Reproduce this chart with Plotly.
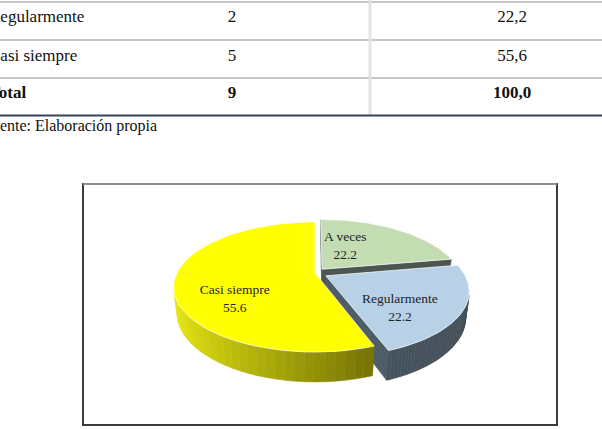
import numpy as np
import plotly.graph_objects as go

# ---------------- data ----------------
categories = ["A veces", "Regularmente", "Casi siempre"]
frecuencia = [2, 2, 5]
porcentaje = [22.2, 22.2, 55.6]

table_rows = ["Regularmente", "Casi siempre", "Total"]
table_freq = [2, 5, 9]
table_pct = ["22,2", "55,6", "100,0"]
fuente = "Fuente: Elaboración propia"

# ---------------- style ----------------
top_colors = ["#c4dcb2", "#b9d1e7", "#ffff00"]
wall_light = [(84, 96, 92), (80, 94, 106), (236, 236, 18)]
wall_dark = [(70, 80, 78), (66, 78, 88), (58, 56, 0)]
explode = [0.08, 0.09, 0.0]
label_pos = [(25, 0.45), (134.6, 0.66), (233.7, 0.66)]  # (angle deg, radius) of labels

W, H = 602, 429
SERIF = "Liberation Serif, Times New Roman, serif"

# perspective projection of a pie lying on a horizontal plane
phi = np.radians(26.7)
Dcam = 4.15
kf = 573.0
pcx, pcy = 315.0, 273.0
depth = 0.21
CAM = np.array([0.0, -Dcam * np.cos(phi), Dcam * np.sin(phi)])


def proj(x, y, z):
    d1 = y + Dcam * np.cos(phi)
    d2 = z - Dcam * np.sin(phi)
    yc = d1 * np.sin(phi) + d2 * np.cos(phi)
    zc = d1 * np.cos(phi) - d2 * np.sin(phi)
    return pcx + kf * x / zc, pcy - kf * yc / zc, zc


fig = go.Figure()

total = sum(frecuencia)
angles = np.cumsum([0] + [360.0 * f / total for f in frecuencia])

walls = []
tops = []
for i in range(len(categories)):
    a0, a1 = np.radians(angles[i]), np.radians(angles[i + 1])
    mid = (a0 + a1) / 2
    ox, oy = explode[i] * np.sin(mid), explode[i] * np.cos(mid)
    th = np.linspace(a0, a1, 61)
    rx, ry = ox + np.sin(th), oy + np.cos(th)

    # top face
    tx = np.concatenate([[ox], rx, [ox]])
    ty = np.concatenate([[oy], ry, [oy]])
    X, Y, Z = proj(tx, ty, np.zeros_like(tx))
    tops.append((Z.mean(), X, Y, top_colors[i]))

    def shade(nu, i=i):
        t = (1 - nu) / 2
        lo, hi = np.array(wall_dark[i]), np.array(wall_light[i])
        c = lo + (hi - lo) * t
        return "rgb(%d,%d,%d)" % tuple(c.astype(int))

    # outer wall strips
    for j in range(len(th) - 1):
        tm = (th[j] + th[j + 1]) / 2
        n = np.array([np.sin(tm), np.cos(tm), 0.0])
        P = np.array([ox + np.sin(tm), oy + np.cos(tm), -depth / 2])
        if np.dot(n, CAM - P) <= 0:
            continue
        qx = np.array([rx[j], rx[j + 1], rx[j + 1], rx[j], rx[j]])
        qy = np.array([ry[j], ry[j + 1], ry[j + 1], ry[j], ry[j]])
        qz = np.array([0, 0, -depth, -depth, 0])
        X, Y, Z = proj(qx, qy, qz)
        walls.append((Z.mean(), X, Y, shade(n[0])))

    # radial walls
    for a, n in ((a0, np.array([-np.cos(a0), np.sin(a0), 0.0])),
                 (a1, np.array([np.cos(a1), -np.sin(a1), 0.0]))):
        ex, ey = ox + np.sin(a), oy + np.cos(a)
        P = np.array([(ox + ex) / 2, (oy + ey) / 2, -depth / 2])
        if np.dot(n, CAM - P) <= 1e-3:
            continue
        qx = np.array([ox, ex, ex, ox, ox])
        qy = np.array([oy, ey, ey, oy, oy])
        qz = np.array([0, 0, -depth, -depth, 0])
        X, Y, Z = proj(qx, qy, qz)
        walls.append((Z.mean(), X, Y, shade(n[0])))

for _, X, Y, col in sorted(walls, key=lambda w: -w[0]):
    fig.add_trace(go.Scatter(x=X, y=Y, mode="lines", fill="toself", fillcolor=col,
                             line=dict(color=col, width=0.6), hoverinfo="skip",
                             showlegend=False))
for _, X, Y, col in sorted(tops, key=lambda w: -w[0]):
    fig.add_trace(go.Scatter(x=X, y=Y, mode="lines", fill="toself", fillcolor=col,
                             line=dict(color="rgba(255,255,255,0.7)", width=1),
                             hoverinfo="skip", showlegend=False))

# slice labels
lx, ly, lt = [], [], []
for i in range(len(categories)):
    a0, a1 = np.radians(angles[i]), np.radians(angles[i + 1])
    mid = (a0 + a1) / 2
    ox, oy = explode[i] * np.sin(mid), explode[i] * np.cos(mid)
    la, lr = label_pos[i]
    X, Y, _ = proj(ox + lr * np.sin(np.radians(la)), oy + lr * np.cos(np.radians(la)), 0.0)
    lx.append(X)
    ly.append(Y)
    lt.append("%s<br>%.1f" % (categories[i], porcentaje[i]))
fig.add_trace(go.Scatter(x=lx, y=ly, mode="text", text=lt, textposition="middle center",
                         textfont=dict(family=SERIF, size=13.5, color="#1e2228"),
                         hoverinfo="skip", showlegend=False))

# ---------------- table fragment ----------------
row_y = [18, 57, 94]
col_x = [-11, 232, 512]
for r, (name, f, p) in enumerate(zip(table_rows, table_freq, table_pct)):
    bold = name == "Total"
    wrap = (lambda s: "<b>%s</b>" % s) if bold else (lambda s: s)
    fig.add_trace(go.Scatter(x=[col_x[0]], y=[row_y[r]], mode="text", text=[wrap(name)],
                             textposition="middle right", cliponaxis=True,
                             textfont=dict(family=SERIF, size=17, color="#111"),
                             hoverinfo="skip", showlegend=False))
    fig.add_trace(go.Scatter(x=col_x[1:], y=[row_y[r]] * 2, mode="text",
                             text=[wrap(str(f)), wrap(p)], textposition="middle center",
                             textfont=dict(family=SERIF, size=17, color="#111"),
                             hoverinfo="skip", showlegend=False))
fig.add_trace(go.Scatter(x=[-17], y=[127], mode="text", text=[fuente],
                         textposition="middle right", cliponaxis=True,
                         textfont=dict(family=SERIF, size=16, color="#111"),
                         hoverinfo="skip", showlegend=False))

shapes = []
for yy in (2, 40, 78):
    shapes.append(dict(type="line", x0=0, x1=W, y0=yy, y1=yy,
                       line=dict(color="#c6c6c6", width=2), layer="below"))
shapes.append(dict(type="line", x0=370, x1=370, y0=0, y1=115,
                   line=dict(color="#e3e3e3", width=3), layer="below"))
shapes.append(dict(type="line", x0=0, x1=W, y0=115.5, y1=115.5,
                   line=dict(color="#34445a", width=2), layer="below"))
# chart frame
shapes.append(dict(type="rect", x0=83, x1=557, y0=184, y1=425,
                   line=dict(color="#3c3c3c", width=2), layer="below"))
shapes.append(dict(type="line", x0=83, x1=557, y0=184, y1=184,
                   line=dict(color="#8c8c8c", width=2), layer="below"))

fig.update_layout(
    width=W, height=H, margin=dict(l=0, r=0, t=0, b=0),
    paper_bgcolor="white", plot_bgcolor="white",
    xaxis=dict(range=[0, W], visible=False, fixedrange=True),
    yaxis=dict(range=[H, 0], visible=False, fixedrange=True),
    shapes=shapes, showlegend=False,
)

fig.write_html("out.html")
